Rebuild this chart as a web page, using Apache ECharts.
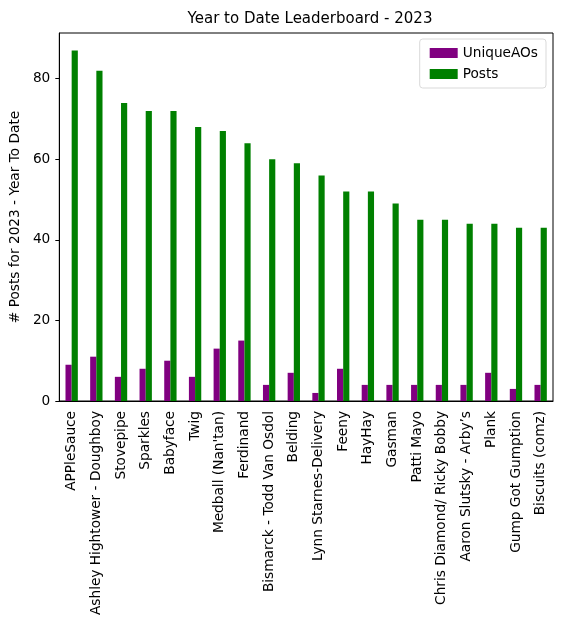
<!DOCTYPE html>
<html>
<head>
<meta charset="utf-8">
<script src="https://cdn.jsdelivr.net/npm/echarts@6/dist/echarts.min.js"></script>
<style>
  html, body { margin: 0; padding: 0; background: #fff; }
  #chart { width: 562px; height: 628px; }
</style>
</head>
<body>
<div id="chart"></div>
<script>
const names = [
    'APPleSauce', 'Ashley Hightower - Doughboy', 'Stovepipe', 'Sparkles', 'Babyface',
    'Twig', "Medball (Nan'tan)", 'Ferdinand', 'Bismarck - Todd Van Osdol', 'Belding',
    'Lynn Starnes-Delivery', 'Feeny', 'HayHay', 'Gasman', 'Patti Mayo',
    'Chris Diamond/ Ricky Bobby', 'Aaron Slutsky - Arby\u2019s', 'Plank', 'Gump Got Gumption', 'Biscuits (comz)'
];
const uniqueAOs = [9, 11, 6, 8, 10, 6, 13, 15, 4, 7, 2, 8, 4, 4, 4, 4, 4, 7, 3, 4];
const posts = [87, 82, 74, 72, 72, 68, 67, 64, 60, 59, 56, 52, 52, 49, 45, 45, 44, 44, 43, 43];
const yTicks = [0, 20, 40, 60, 80];

const font = 'DejaVu Sans';
const fs = 13.7;
const chart = echarts.init(document.getElementById('chart'), null, { renderer: 'canvas' });

chart.setOption({
    animation: false,
    textStyle: { fontFamily: font },
    title: {
        text: 'Year to Date Leaderboard - 2023',
        left: 305,
        textAlign: 'center',
        top: 7,
        textStyle: { fontFamily: font, fontSize: 15, fontWeight: 'normal', color: '#000' }
    },
    legend: {
        orient: 'vertical',
        right: 16,
        top: 39,
        icon: 'rect',
        itemWidth: 28,
        itemHeight: 10,
        itemGap: 7,
        padding: [7, 8, 7, 10],
        borderColor: '#d9d9d9',
        borderWidth: 1,
        borderRadius: 3,
        textStyle: { fontFamily: font, fontSize: fs, color: '#000' },
        data: ['UniqueAOs', 'Posts']
    },
    grid: {
        left: 56, right: 9, top: 33, bottom: 227,
        show: true, borderColor: '#000', borderWidth: 1
    },
    xAxis: {
        type: 'category',
        data: names,
        axisLine: { lineStyle: { color: '#000' } },
        axisTick: { alignWithLabel: true, length: 4, lineStyle: { color: '#000' } },
        axisLabel: { rotate: 90, interval: 0, fontFamily: font, fontSize: fs, color: '#000', margin: 10 }
    },
    yAxis: {
        type: 'value',
        min: 0,
        max: 91.35,
        interval: 20,
        name: '# Posts for 2023 - Year To Date',
        nameLocation: 'middle',
        nameGap: 32,
        nameTextStyle: { fontFamily: font, fontSize: fs, color: '#000' },
        splitLine: { show: false },
        axisLine: { show: true, lineStyle: { color: '#000' } },
        axisTick: { show: true, length: 4, customValues: yTicks, lineStyle: { color: '#000' } },
        axisLabel: { customValues: yTicks, fontFamily: font, fontSize: fs, color: '#000', margin: 9 }
    },
    series: [
        {
            name: 'UniqueAOs', type: 'bar', data: uniqueAOs,
            itemStyle: { color: '#800080' }, barWidth: '25%', barGap: '0%'
        },
        {
            name: 'Posts', type: 'bar', data: posts,
            itemStyle: { color: '#008000' }, barWidth: '25%', barGap: '0%'
        }
    ]
});
</script>
</body>
</html>
